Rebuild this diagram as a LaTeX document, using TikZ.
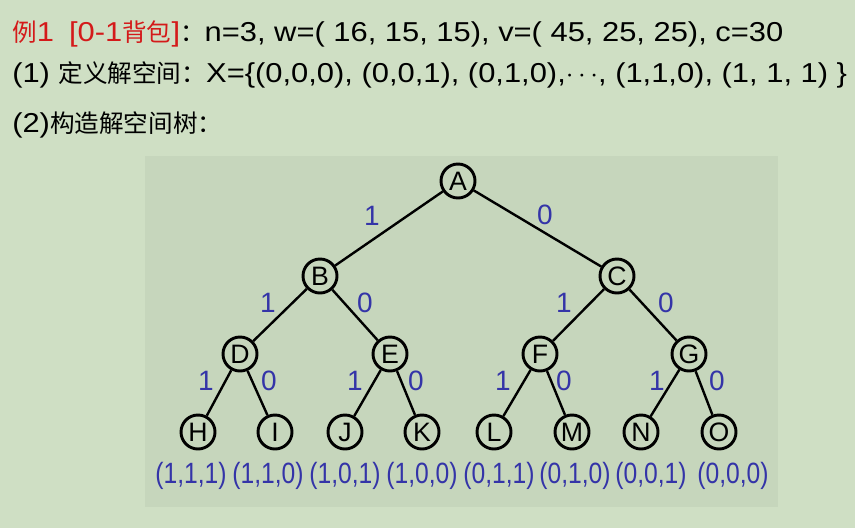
\documentclass[tikz,border=0pt]{standalone}
\usepackage{fontspec}
\setmainfont{Liberation Sans}
\newfontfamily\hfont[FakeStretch=1.13]{Liberation Sans}
\newfontfamily\lfont[FakeStretch=0.84]{Liberation Sans}
\newfontfamily\cjk[Scale=0.9]{Noto Sans CJK SC}
\definecolor{bgout}{HTML}{CFDFC4}
\definecolor{bgin}{HTML}{C6D6BC}
\definecolor{lblue}{HTML}{3434A8}
\definecolor{tred}{HTML}{D41A1A}
\begin{document}
\begin{tikzpicture}[x=0.75pt,y=-0.75pt,
  tnode/.style={circle,draw=black,line width=2.2pt,fill=bgin,minimum size=25.5pt,inner sep=0pt,font=\fontsize{20}{20}\selectfont},
  edge/.style={line width=1.8pt},
  elab/.style={text=lblue,font=\fontsize{21}{21}\selectfont},
  leaflab/.style={text=lblue,font=\lfont\fontsize{22}{22}\selectfont,inner sep=0pt},
  hline/.style={anchor=base west,inner sep=0pt,font=\hfont\fontsize{20.5}{21}\selectfont}]
\useasboundingbox (0,0) rectangle (855,528);
\fill[bgout] (0,0) rectangle (855,528);
\fill[bgin] (145,156) rectangle (778,507);
% header lines
\node[hline] (t1) at (12,41) {\textcolor{tred}{{\cjk 例}1\hspace{0.55em}[0-1{\cjk 背包}]}{\cjk ：}n=3, w=( 16, 15, 15), v=( 45, 25, 25), c=30};
\node[hline] (t2) at (12,83) {(1) {\cjk 定义解空间：}X=\{(0,0,0), (0,0,1), (0,1,0),$\cdots$, (1,1,0), (1, 1, 1) \}};
\node[hline] (t3) at (12,132) {(2){\cjk 构造解空间树：}};
% node positions
\coordinate (pA) at (458,181);
\coordinate (pB) at (320,276);
\coordinate (pC) at (617,276);
\coordinate (pD) at (240,354);
\coordinate (pE) at (390,354);
\coordinate (pF) at (540,354);
\coordinate (pG) at (689,354);
\coordinate (pH) at (198,432);
\coordinate (pI) at (275,432);
\coordinate (pJ) at (345,432);
\coordinate (pK) at (422,432);
\coordinate (pL) at (494,432);
\coordinate (pM) at (572,432);
\coordinate (pN) at (641,432);
\coordinate (pO) at (719,432);
\foreach \n in {A,B,C,D,E,F,G,H,I,J,K,L,M,N,O}{\node[tnode] (\n) at (p\n) {\n};}
\draw[edge] (A) -- (B);
\draw[edge] (A) -- (C);
\draw[edge] (B) -- (D);
\draw[edge] (B) -- (E);
\draw[edge] (C) -- (F);
\draw[edge] (C) -- (G);
\draw[edge] (D) -- (H);
\draw[edge] (D) -- (I);
\draw[edge] (E) -- (J);
\draw[edge] (E) -- (K);
\draw[edge] (F) -- (L);
\draw[edge] (F) -- (M);
\draw[edge] (G) -- (N);
\draw[edge] (G) -- (O);
% edge labels
\node[elab] (lAB) at (372,216) {1};
\node[elab] (lAC) at (545,215) {0};
\node[elab] (lBD) at (268,303) {1};
\node[elab] (lBE) at (365,303) {0};
\node[elab] (lCF) at (564,303) {1};
\node[elab] (lCG) at (666,303) {0};
\node[elab] (lDH) at (206,381) {1};
\node[elab] (lDI) at (269,381) {0};
\node[elab] (lEJ) at (355,381) {1};
\node[elab] (lEK) at (416,381) {0};
\node[elab] (lFL) at (503,381) {1};
\node[elab] (lFM) at (564,381) {0};
\node[elab] (lGN) at (657,381) {1};
\node[elab] (lGO) at (717,381) {0};
% leaf labels
\node[leaflab] (sH) at (191,476) {(1,1,1)};
\node[leaflab] (sI) at (268,476) {(1,1,0)};
\node[leaflab] (sJ) at (345,476) {(1,0,1)};
\node[leaflab] (sK) at (422,476) {(1,0,0)};
\node[leaflab] (sL) at (499,476) {(0,1,1)};
\node[leaflab] (sM) at (575,476) {(0,1,0)};
\node[leaflab] (sN) at (651,476) {(0,0,1)};
\node[leaflab] (sO) at (733,476) {(0,0,0)};
\end{tikzpicture}
\end{document}
